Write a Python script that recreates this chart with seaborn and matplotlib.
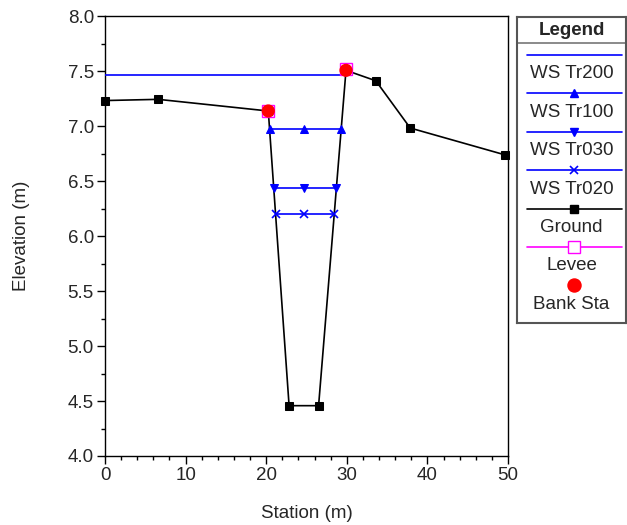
import matplotlib
matplotlib.use("Agg")
import matplotlib.pyplot as plt
import seaborn as sns

# cross-section data
ground_sta = [0.0, 6.6, 20.26, 22.84, 26.5, 29.9, 33.6, 37.87, 49.66]
ground_elev = [7.235, 7.246, 7.14, 4.458, 4.458, 7.51, 7.415, 6.985, 6.74]

ws_tr200_sta = [0.0, 29.86]
ws_tr200_elev = [7.472, 7.472]
ws_tr100_sta = [20.42, 24.75, 29.3]
ws_tr100_elev = [6.975, 6.975, 6.975]
ws_tr030_sta = [20.93, 24.75, 28.71]
ws_tr030_elev = [6.44, 6.44, 6.44]
ws_tr020_sta = [21.17, 24.75, 28.44]
ws_tr020_elev = [6.20, 6.20, 6.20]

levee_sta = [20.26, 29.9]
levee_elev = [7.14, 7.525]
bank_sta = [20.26, 29.9]
bank_elev = [7.14, 7.51]

legend_labels = ["WS Tr200", "WS Tr100", "WS Tr030", "WS Tr020", "Ground", "Levee", "Bank Sta"]

sns.set_style("ticks")
plt.rcParams["font.family"] = ["Liberation Sans", "DejaVu Sans"]
plt.rcParams["font.size"] = 13.5

fig = plt.figure(figsize=(6.27, 5.25), dpi=100)
ax = fig.add_axes([105 / 627, 69 / 525, 403 / 627, 439.5 / 525])

blue = "#0000ff"
sns.lineplot(x=ground_sta, y=ground_elev, sort=False, estimator=None, color="black",
             marker="s", markersize=5.8, markeredgecolor="black", linewidth=1.2, ax=ax,
             zorder=2, clip_on=False)
sns.lineplot(x=ws_tr200_sta, y=ws_tr200_elev, sort=False, estimator=None, color=blue,
             linewidth=1.2, ax=ax, zorder=3)
sns.lineplot(x=ws_tr100_sta, y=ws_tr100_elev, sort=False, estimator=None, color=blue,
             marker="^", markersize=5.5, markeredgecolor=blue, linewidth=1.2, ax=ax, zorder=3)
sns.lineplot(x=ws_tr030_sta, y=ws_tr030_elev, sort=False, estimator=None, color=blue,
             marker="v", markersize=5.5, markeredgecolor=blue, linewidth=1.2, ax=ax, zorder=3)
sns.lineplot(x=ws_tr020_sta, y=ws_tr020_elev, sort=False, estimator=None, color=blue,
             marker="x", markersize=5.5, markeredgecolor=blue, markeredgewidth=1.2,
             linewidth=1.2, ax=ax, zorder=3)
ax.plot(levee_sta, levee_elev, linestyle="none", marker="s", markersize=9,
        markerfacecolor="none", markeredgecolor="#ff00ff", markeredgewidth=1.0, zorder=4)
sns.scatterplot(x=bank_sta, y=bank_elev, color="red", s=90, edgecolor="none", ax=ax, zorder=5)

ax.set_xlim(0, 50)
ax.set_ylim(4.0, 8.0)
ax.set_xticks(range(0, 51, 10))
ax.set_xticks(range(0, 51, 2), minor=True)
ax.set_yticks([4.0, 4.5, 5.0, 5.5, 6.0, 6.5, 7.0, 7.5, 8.0])
ax.set_yticks([4.25 + 0.5 * i for i in range(8)], minor=True)
ax.set_yticklabels([f"{v:.1f}" for v in [4.0, 4.5, 5.0, 5.5, 6.0, 6.5, 7.0, 7.5, 8.0]])
ax.tick_params(which="major", length=6, width=1, color="black", pad=2, labelsize=13.5)
ax.tick_params(which="minor", length=3, width=1, color="black")
for s in ax.spines.values():
    s.set_visible(True)
    s.set_color("black")
    s.set_linewidth(1)
ax.set_xlabel("Station (m)", fontsize=13.5)
ax.set_ylabel("Elevation (m)", fontsize=13.5)
ax.xaxis.set_label_coords(0.5, -0.112)
ax.yaxis.set_label_coords(-0.187, 0.5)

# legend panel drawn as its own box (labels sit under each sample line)
lax = fig.add_axes([517 / 627, 202 / 525, 109 / 627, 306 / 525])
lax.set_xlim(517, 626)
lax.set_ylim(323, 17)
lax.set_xticks([])
lax.set_yticks([])
for s in lax.spines.values():
    s.set_color("#555555")
    s.set_linewidth(1.5)
lax.text(571.5, 35, "Legend", ha="center", va="baseline", fontweight="bold", fontsize=13.5)
lax.axhline(43.3, color="#777777", linewidth=1.2)

styles = [
    dict(color=blue, marker=None),
    dict(color=blue, marker="^", markersize=5.5),
    dict(color=blue, marker="v", markersize=5.5),
    dict(color=blue, marker="x", markersize=5.5, markeredgewidth=1.2),
    dict(color="black", marker="s", markersize=5.8),
    dict(color="#ff00ff", marker="s", markersize=9, markerfacecolor="white", markeredgecolor="#ff00ff"),
]
for i, label in enumerate(legend_labels):
    y = 55 + i * 38.4
    if i < len(styles):
        st = styles[i]
        lax.plot([527, 622], [y, y], color=st["color"], linewidth=1.2)
        if st["marker"]:
            kw = {k: v for k, v in st.items() if k != "color"}
            lax.plot([574.5], [y], linestyle="none", color=st["color"], **kw)
    else:
        lax.plot([574.5], [y], linestyle="none", marker="o", markersize=9.4, color="red")
    lax.text(571.5, y + 23.3, label, ha="center", va="baseline", fontsize=13.5)

fig.savefig("out.png", dpi=100)
